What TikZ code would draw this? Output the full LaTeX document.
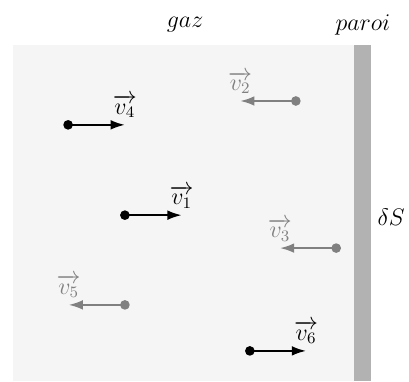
\documentclass[tikz,border=0pt]{standalone}
\usepackage{amsmath}
\usepackage{tikz}
\usetikzlibrary{calc}
\usetikzlibrary{positioning}
\usetikzlibrary{arrows.meta}

\tikzset{
	vit/.style={line width=1pt, arrows={-Latex[length=2.5mm, width=1.7mm]}},
	lent/.style={vit, gray},
	txt/.style={font=\large}
}

\begin{document}
\begin{tikzpicture}
		\useasboundingbox (-0.229, 0) rectangle (6.972, 6.708);
		% gaz et paroi
		\fill[gray!8] (0, 0) rectangle (6, 5.92);
		\fill[black!30] (6, 0) rectangle (6.3, 5.92);
		\node[txt] (gaz) at (3.03, 6.27) {$gaz$};
		\node[txt] (paroi) at (6.16, 6.27) {$paroi$};
		\node[txt] (dS) at (6.66, 2.89) {$\delta S$};
		% molecules
		\coordinate (a4) at (0.97, 4.51);
		\coordinate (b4) at (1.97, 4.51);
		\coordinate (a2) at (4.98, 4.93);
		\coordinate (b2) at (4.0, 4.93);
		\coordinate (a1) at (1.97, 2.92);
		\coordinate (b1) at (2.97, 2.92);
		\coordinate (a3) at (5.69, 2.34);
		\coordinate (b3) at (4.70, 2.34);
		\coordinate (a5) at (1.97, 1.34);
		\coordinate (b5) at (0.98, 1.34);
		\coordinate (a6) at (4.17, 0.53);
		\coordinate (b6) at (5.16, 0.53);
		\draw[vit] (a4) -- (b4);
		\fill (a4) circle (0.085);
		\node[txt, above] (v4) at (b4) {$\overrightarrow{v_4}$};
		\draw[lent] (a2) -- (b2);
		\fill[gray] (a2) circle (0.085);
		\node[txt, above, gray] (v2) at (b2) {$\overrightarrow{v_2}$};
		\draw[vit] (a1) -- (b1);
		\fill (a1) circle (0.085);
		\node[txt, above] (v1) at (b1) {$\overrightarrow{v_1}$};
		\draw[lent] (a3) -- (b3);
		\fill[gray] (a3) circle (0.085);
		\node[txt, above, gray] (v3) at (b3) {$\overrightarrow{v_3}$};
		\draw[lent] (a5) -- (b5);
		\fill[gray] (a5) circle (0.085);
		\node[txt, above, gray] (v5) at (b5) {$\overrightarrow{v_5}$};
		\draw[vit] (a6) -- (b6);
		\fill (a6) circle (0.085);
		\node[txt, above] (v6) at (b6) {$\overrightarrow{v_6}$};
	\end{tikzpicture}
\end{document}
